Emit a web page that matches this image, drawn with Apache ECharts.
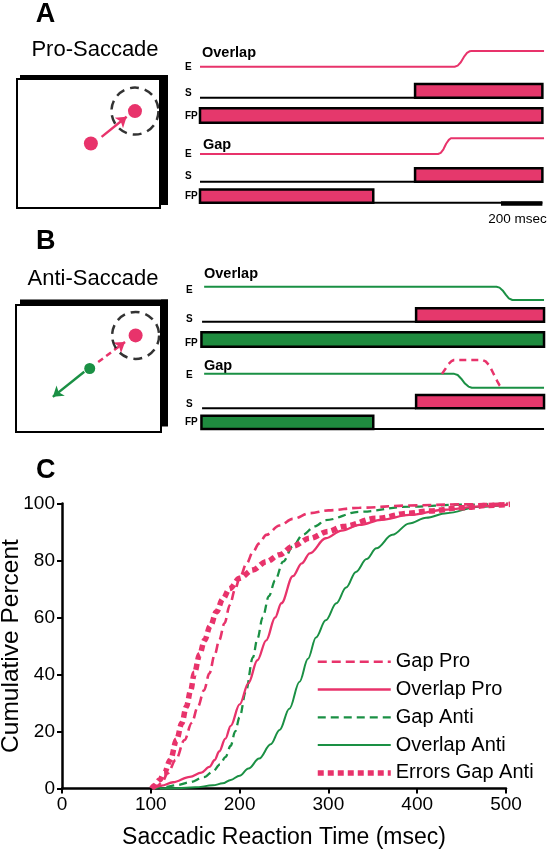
<!DOCTYPE html>
<html><head><meta charset="utf-8">
<script src="https://cdn.jsdelivr.net/npm/echarts@6/dist/echarts.min.js"></script>
<style>html,body{margin:0;padding:0;background:#fff}#c{width:554px;height:852px}</style>
</head><body><div id="c"></div>
<script>
// ---------- Panel C data: cumulative distributions [reaction time ms, cumulative %] ----------
const seriesNames = ['Gap Pro', 'Overlap Pro', 'Gap Anti', 'Overlap Anti', 'Errors Gap Anti'];
const xTicks = [0, 100, 200, 300, 400, 500];
const yTicks = [0, 20, 40, 60, 80, 100];
const gapPro = [[103,0],[108,1],[113,2.5],[119,5.3],[128,10],[138,17],[146,23],[153,28.7],[160,34.5],[166,40.4],[172,47],[177,52],[183,58],[189,64.4],[195,70],[200,73.8],[208,79],[215,83],[222,86],[230,89],[245,92.3],[260,94.6],[279,96.6],[300,97.6],[335,98.5],[391,99.3],[450,99.7],[515,100]];
const overlapPro = [[103,0],[112,1],[125,2.2],[144,4.1],[157,5.6],[166,7.6],[172,10],[177,13],[184,17.5],[190,22],[200,29.5],[210,37],[220,45],[230,52],[240,60],[247,65],[260,74.5],[270,79],[279,82.5],[297,87.8],[315,90.5],[335,92.5],[360,94.3],[391,96],[430,97.8],[470,99],[515,100]];
const gapAnti = [[103,0],[115,0.5],[130,1.2],[144,2.2],[160,4],[170,6],[178,8.5],[184,11],[190,15],[195,20],[200,25],[207,34],[215,46],[220,52.5],[226,60],[233,67.5],[240,73],[249,79.6],[260,85],[271,89],[285,92],[297,94.2],[335,97.1],[391,98.9],[450,99.6],[515,100]];
const overlapAnti = [[110,0],[130,0.1],[150,0.4],[170,1.1],[181,1.8],[190,3],[200,4.5],[210,7],[222,10.5],[235,15.5],[245,20.5],[256,28],[267.5,37.5],[277,45.5],[286,53],[297,59],[309,65],[320,70.5],[331,76],[343,80.5],[354,84.3],[372,89],[391,93],[410,95],[433,96.6],[470,98.9],[515,100]];
const errorsGapAnti = [[101,0],[104,1],[110,3],[115,5.3],[122,10],[129,17],[135,23],[140,28.7],[145,34.5],[149,40.4],[155,47],[160.5,52],[167,57],[174,62],[181,66.5],[189,70.2],[200,73.8],[215,76.7],[230,79.6],[245,82],[260,85],[279,87.8],[300,90.2],[316,91.9],[354,94.8],[391,96.6],[414,97.4],[450,98.5],[480,99.3],[515,100]];

// ---------- Panels A/B timing data (ms from trial start; level 0 = off / 1 = on) ----------
const proOverlapE = [[0,0],[1230,0],[1245,0.07],[1260,0.28],[1275,0.62],[1290,0.88],[1302,0.98],[1312,1],[1662,1]];
const proOverlapS = [1039, 1654];
const proOverlapFP = [0, 1654];
const proGapE = [[0,0],[1150,0],[1163,0.07],[1176,0.3],[1189,0.65],[1202,0.9],[1212,1],[1662,1]];
const proGapS = [1039, 1654];
const proGapFP = [0, 837];
const scaleBarMs = [1454, 1654];
const antiOverlapE = [[20,1],[1432,1],[1447,0.93],[1462,0.72],[1477,0.4],[1492,0.12],[1509,0],[1662,0]];
const antiOverlapS = [1044, 1662];
const antiOverlapFP = [7, 1662];
const antiGapE = [[20,1],[1228,1],[1245,0.92],[1262,0.65],[1280,0.3],[1297,0.08],[1313,0],[1662,0]];
const antiGapErrE = [[1169,1],[1185,1.35],[1200,1.7],[1215,1.92],[1227,2],[1364,2],[1380,1.9],[1398,1.6],[1415,1.1],[1435,0.5],[1448,0.15],[1458,0]];
const antiGapS = [1044, 1662];
const antiGapFP = [7, 837];

// ---------- Schematic screens (deg from screen centre) ----------
const proFix = [0.4, 0];
const proTarget = [7.8, 5.4];
const proArrow = [[2.2, 1.1], [6.4, 4.45]];
const antiFix = [0.2, 0];
const antiTarget = [7.8, 5.6];
const antiErrArrow = [[1.6, 1.1], [6.05, 4.5]];
const antiArrow = [[-0.7, -0.55], [-5.9, -4.8]];

const PINK = '#E8336B', GREEN = '#1A9044', BARPINK = '#E5386C', BARGREEN = '#1F8B3F';
const FONT = 'Liberation Sans, Arial, sans-serif';

const grids = [], xAxes = [], yAxes = [], series = [];
function addGrid(g, xa, ya) {
  grids.push(Object.assign({ outerBoundsMode: 'none', containLabel: false }, g));
  const i = grids.length - 1;
  xAxes.push(Object.assign({ gridIndex: i, type: 'value', show: false }, xa));
  yAxes.push(Object.assign({ gridIndex: i, type: 'value', show: false }, ya));
  return i;
}
const TL_LEFT = 200, TL_MAX = 1680, TL_W = TL_MAX * 0.207;
function row(top, h, ymax) {
  return addGrid({ left: TL_LEFT, top: top, width: TL_W, height: h }, { min: 0, max: TL_MAX }, { min: 0, max: ymax || 1 });
}
function lineS(i, data, color, width, type) {
  series.push({ type: 'line', xAxisIndex: i, yAxisIndex: i, data: data, symbol: 'none', clip: false, silent: true,
    lineStyle: { color: color, width: width, type: type || 'solid', cap: 'butt' } });
}
function baseS(i, t0, t1) { lineS(i, [[t0, 0], [t1, 0]], '#000', 2); }
function barS(i, span, fill) {
  series.push({ type: 'custom', xAxisIndex: i, yAxisIndex: i, data: [span], silent: true, clip: false,
    renderItem: function (p, api) {
      const a = api.coord([api.value(0), 1]);
      const b = api.coord([api.value(1), 0]);
      return { type: 'rect', shape: { x: a[0], y: a[1], width: b[0] - a[0], height: b[1] - a[1] },
        style: { fill: fill, stroke: '#000', lineWidth: 2.5 } };
    } });
}

// Panel A rows
let r;
r = row(51, 15.7); lineS(r, proOverlapE, PINK, 2);
r = row(84, 13.7); baseS(r, 0, proOverlapS[0]); barS(r, proOverlapS, BARPINK);
r = row(108.3, 14.4); barS(r, proOverlapFP, BARPINK);
r = row(138.3, 15.7); lineS(r, proGapE, PINK, 2);
r = row(168.3, 13.4); baseS(r, 0, proGapS[0]); barS(r, proGapS, BARPINK);
r = row(189.5, 13.2); baseS(r, proGapFP[1], proGapS[1]); barS(r, proGapFP, BARPINK);
lineS(r, scaleBarMs.map(t => [t, -0.07]), '#000', 4.5);
// Panel B rows
r = row(286.7, 13.3); lineS(r, antiOverlapE, GREEN, 2);
r = row(308.3, 13.4); baseS(r, 10, antiOverlapS[0]); barS(r, antiOverlapS, BARPINK);
r = row(332.3, 14.4); barS(r, antiOverlapFP, BARGREEN);
r = row(360, 27.7, 2); lineS(r, antiGapE, GREEN, 2); lineS(r, antiGapErrE, PINK, 2.5, [7, 5]);
r = row(395, 13.3); baseS(r, 10, antiGapS[0]); barS(r, antiGapS, BARPINK);
r = row(415.7, 13.3); baseS(r, antiGapFP[1], antiGapS[1]); barS(r, antiGapFP, BARGREEN);

// Schematic screens
function screen(g, fix, target, fixColor, fixSize) {
  series.push({ type: 'scatter', xAxisIndex: g, yAxisIndex: g, data: [target], symbol: 'circle', symbolSize: 47, silent: true,
    itemStyle: { color: 'rgba(0,0,0,0)', borderColor: '#000', borderWidth: 2.5, borderType: [9, 6] } });
  series.push({ type: 'scatter', xAxisIndex: g, yAxisIndex: g, data: [target], symbolSize: 14, silent: true, itemStyle: { color: PINK, opacity: 1 } });
  series.push({ type: 'scatter', xAxisIndex: g, yAxisIndex: g, data: [fix], symbolSize: fixSize, silent: true, itemStyle: { color: fixColor, opacity: 1 } });
}
function arrow(g, coords, color, type) {
  series.push({ type: 'lines', coordinateSystem: 'cartesian2d', xAxisIndex: g, yAxisIndex: g, silent: true,
    data: [{ coords: coords }], symbol: ['none', 'arrow'], symbolSize: 10,
    lineStyle: { color: color, width: 2.5, type: type, opacity: 1 } });
}
const boxA = addGrid({ left: 17, top: 79, width: 143, height: 129, show: true, borderColor: '#000', borderWidth: 2, backgroundColor: 'transparent' },
  { min: -12, max: 12 }, { min: -10.75, max: 10.75 });
screen(boxA, proFix, proTarget, PINK, 14);
arrow(boxA, proArrow, PINK, 'solid');
const boxB = addGrid({ left: 16, top: 305, width: 145, height: 127, show: true, borderColor: '#000', borderWidth: 2, backgroundColor: 'transparent' },
  { min: -12, max: 12 }, { min: -10.75, max: 10.75 });
screen(boxB, antiFix, antiTarget, GREEN, 11);
arrow(boxB, antiErrArrow, PINK, [6, 4]);
arrow(boxB, antiArrow, GREEN, 'solid');

// Panel C main chart
grids.push({ left: 62, top: 503.5, width: 444, height: 285, outerBoundsMode: 'none', containLabel: false });
const gC = grids.length - 1;
const axisLbl = { color: '#000', fontSize: 19, fontFamily: FONT };
xAxes.push({ gridIndex: gC, type: 'value', min: xTicks[0], max: xTicks[xTicks.length - 1], interval: 100,
  axisLine: { show: true, lineStyle: { color: '#000', width: 2.5 } },
  axisTick: { show: true, inside: false, length: 5, lineStyle: { color: '#000', width: 2 } },
  axisLabel: Object.assign({ margin: 7 }, axisLbl), splitLine: { show: false },
  name: 'Saccadic Reaction Time (msec)', nameLocation: 'middle', nameGap: 38, nameMoveOverlap: false,
  nameTextStyle: { color: '#000', fontSize: 23, fontFamily: FONT } });
yAxes.push({ gridIndex: gC, type: 'value', min: yTicks[0], max: yTicks[yTicks.length - 1], interval: 20,
  axisLine: { show: true, lineStyle: { color: '#000', width: 2.5 } },
  axisTick: { show: true, inside: false, length: 5, lineStyle: { color: '#000', width: 2 } },
  axisLabel: Object.assign({ margin: 7 }, axisLbl), splitLine: { show: false },
  name: 'Cumulative Percent', nameLocation: 'middle', nameGap: 38, nameRotate: 90, nameMoveOverlap: false,
  nameTextStyle: { color: '#000', fontSize: 24.5, fontFamily: FONT } });
function curve(name, data, color, width, type) {
  series.push({ type: 'line', name: name, xAxisIndex: gC, yAxisIndex: gC, data: data, symbol: 'none', showSymbol: false, clip: false,
    smooth: 0.35, smoothMonotone: 'x', lineStyle: { color: color, width: width, type: type, cap: 'butt' }, itemStyle: { color: color } });
}
curve(seriesNames[3], overlapAnti, GREEN, 2, 'solid');
curve(seriesNames[2], gapAnti, GREEN, 2.3, [8, 5]);
curve(seriesNames[1], overlapPro, PINK, 2.3, 'solid');
curve(seriesNames[0], gapPro, PINK, 2.6, [9, 5]);
curve(seriesNames[4], errorsGapAnti, PINK, 5.5, [6, 4]);

function txt(s, x, y, size, weight, align) {
  return { type: 'text', x: x, y: y, silent: true,
    style: { text: s, fill: '#000', fontSize: size, fontWeight: weight || 'normal', fontFamily: FONT, align: align || 'left', verticalAlign: 'middle' } };
}
const graphics = [
  { type: 'rect', shape: { x: 20, y: 75, width: 148, height: 5 }, style: { fill: '#000' }, silent: true },
  { type: 'rect', shape: { x: 161, y: 75, width: 7, height: 130 }, style: { fill: '#000' }, silent: true },
  { type: 'rect', shape: { x: 20, y: 299.5, width: 148, height: 5.5 }, style: { fill: '#000' }, silent: true },
  { type: 'rect', shape: { x: 161, y: 299.5, width: 7, height: 127 }, style: { fill: '#000' }, silent: true },
  txt('A', 45.5, 14.5, 27, 'bold', 'center'),
  txt('B', 45.7, 242, 27, 'bold', 'center'),
  txt('C', 45.7, 470.5, 27, 'bold', 'center'),
  txt('Pro-Saccade', 95, 49.5, 22, 'normal', 'center'),
  txt('Anti-Saccade', 93, 279, 22, 'normal', 'center'),
  txt('Overlap', 202, 52.5, 14.5, 'bold'),
  txt('Gap', 203, 144.5, 14.5, 'bold'),
  txt('Overlap', 204, 273.5, 14.5, 'bold'),
  txt('Gap', 204, 366, 14.5, 'bold'),
  txt('E', 185, 67, 10, 'bold'), txt('S', 185, 93.5, 10, 'bold'), txt('FP', 185, 116, 10, 'bold'),
  txt('E', 185, 154.5, 10, 'bold'), txt('S', 185, 176, 10, 'bold'), txt('FP', 185, 196.7, 10, 'bold'),
  txt('E', 186, 290.5, 10, 'bold'), txt('S', 186, 319, 10, 'bold'), txt('FP', 185, 343, 10, 'bold'),
  txt('E', 186, 375.5, 10, 'bold'), txt('S', 186, 404, 10, 'bold'), txt('FP', 185, 422, 10, 'bold'),
  txt('200 msec', 517.5, 219, 13.5, 'normal', 'center')
];

const chart = echarts.init(document.getElementById('c'), null, { renderer: 'canvas' });
chart.setOption({
  animation: false,
  backgroundColor: '#fff',
  grid: grids, xAxis: xAxes, yAxis: yAxes, series: series,
  legend: { data: seriesNames.slice(), orient: 'vertical', left: 315, top: 651.7, padding: 0,
    itemWidth: 73, itemHeight: 20, itemGap: 7.8, selectedMode: false,
    lineStyle: { width: 'inherit' },
    itemStyle: { opacity: 0, borderWidth: 0 },
    textStyle: { color: '#000', fontSize: 20, fontFamily: FONT, lineHeight: 20 } },
  graphic: graphics
});
</script></body></html>
